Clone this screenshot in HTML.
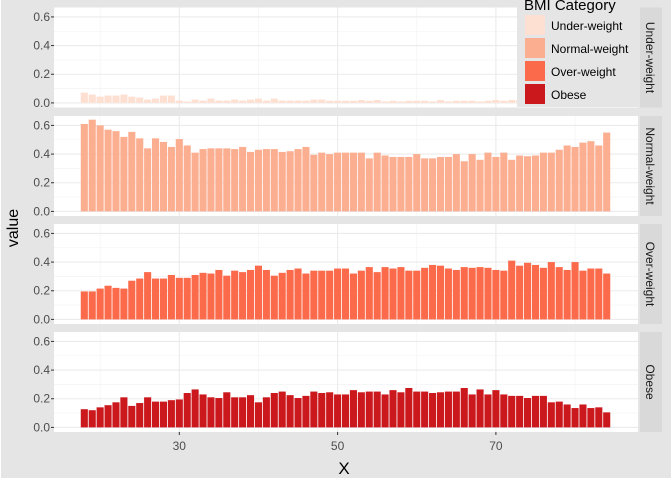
<!DOCTYPE html>
<html><head><meta charset="utf-8"><style>
html,body{margin:0;padding:0;background:#fff}
svg{display:block;font-family:"Liberation Sans",Arial,sans-serif}
</style></head><body>
<svg id="chart" width="672" height="480" viewBox="0 0 672 480">
<rect x="1" y="0" width="670" height="478" fill="#e5e5e5"/>
<g id="panels"></g>
<text x="344" y="474" font-size="17" text-anchor="middle" fill="#000">X</text>
<text transform="translate(18,228) rotate(-90)" font-size="16" text-anchor="middle" fill="#000">value</text>
<g>
<rect x="517" y="0" width="123" height="107" fill="#e5e5e5"/>
<text x="524" y="10" font-size="15" fill="#000">BMI Category</text>
<rect x="525" y="15" width="20" height="20" fill="#fee0d2"/>
<text x="551" y="30" font-size="12" fill="#000">Under-weight</text>
<rect x="525" y="38" width="20" height="20" fill="#fcae91"/>
<text x="551" y="53" font-size="12" fill="#000">Normal-weight</text>
<rect x="525" y="61" width="20" height="20" fill="#fb6a4a"/>
<text x="551" y="76" font-size="12" fill="#000">Over-weight</text>
<rect x="525" y="84" width="20" height="20" fill="#cb181d"/>
<text x="551" y="99" font-size="12" fill="#000">Obese</text>
</g>
</svg>
<script>
const ages = [];
for (let a = 18; a <= 84; a++) ages.push(a);
const facetNames = ["Under-weight","Normal-weight","Over-weight","Obese"];
const underWeight = [0.072,0.058,0.044,0.051,0.051,0.058,0.044,0.037,0.023,0.03,0.051,0.051,0.016,0.009,0.023,0.016,0.03,0.016,0.016,0.023,0.016,0.023,0.03,0.016,0.03,0.016,0.016,0.016,0.016,0.023,0.023,0.015,0.015,0.015,0.015,0.02,0.015,0.02,0.01,0.015,0.01,0.015,0.015,0.015,0.01,0.02,0.01,0.015,0.015,0.015,0.01,0.015,0.02,0.015,0.02,0.02,0.02,0.02,0.02,0.02,0.02,0.02,0.02,0.02,0.02,0.02,0.02];
const normalWeight = [0.61,0.64,0.60,0.57,0.56,0.52,0.555,0.51,0.44,0.51,0.485,0.45,0.505,0.46,0.41,0.435,0.44,0.44,0.44,0.435,0.45,0.415,0.43,0.435,0.435,0.415,0.42,0.435,0.45,0.395,0.41,0.40,0.41,0.41,0.41,0.41,0.37,0.41,0.39,0.38,0.38,0.38,0.40,0.37,0.37,0.38,0.38,0.40,0.35,0.40,0.36,0.41,0.38,0.41,0.36,0.39,0.385,0.39,0.41,0.41,0.43,0.46,0.45,0.48,0.49,0.46,0.55];
const overWeight = [0.195,0.195,0.215,0.235,0.22,0.215,0.27,0.285,0.33,0.285,0.285,0.31,0.29,0.29,0.31,0.325,0.32,0.345,0.305,0.34,0.33,0.345,0.375,0.345,0.305,0.325,0.345,0.355,0.32,0.34,0.34,0.34,0.355,0.355,0.32,0.34,0.365,0.33,0.365,0.355,0.365,0.34,0.34,0.36,0.38,0.375,0.355,0.345,0.365,0.36,0.365,0.36,0.345,0.34,0.41,0.375,0.395,0.38,0.36,0.40,0.365,0.345,0.40,0.34,0.355,0.355,0.32];
const obese = [0.127,0.12,0.14,0.155,0.175,0.21,0.15,0.17,0.21,0.18,0.18,0.19,0.195,0.24,0.265,0.23,0.21,0.205,0.245,0.21,0.21,0.225,0.175,0.21,0.24,0.25,0.225,0.205,0.22,0.25,0.24,0.245,0.23,0.23,0.26,0.245,0.25,0.25,0.23,0.26,0.245,0.275,0.25,0.25,0.24,0.245,0.25,0.25,0.275,0.23,0.265,0.23,0.26,0.23,0.22,0.22,0.205,0.22,0.22,0.175,0.18,0.16,0.135,0.16,0.135,0.14,0.105];
const yTicks = [0.0,0.2,0.4,0.6];
const yTickLabels = ["0.0","0.2","0.4","0.6"];
const xTicks = [30,50,70];
const xTickLabels = ["30","50","70"];
const series = [underWeight, normalWeight, overWeight, obese];
const colors = ["#fee0d2","#fcae91","#fb6a4a","#cb181d"];

const NS = "http://www.w3.org/2000/svg";
const PL = 54, PR = 638, PH = 100;
const panelTops = [7.5, 116, 224, 332];
function xScale(v){ return 179.3 + (v - 30) * 7.915; }
function yScale(v, top){ return top + PH - 4.6 - v * 143.3; }
function mk(tag, attrs, parent){
  const e = document.createElementNS(NS, tag);
  for (const k in attrs) e.setAttribute(k, attrs[k]);
  parent.appendChild(e); return e;
}
const root = document.getElementById("panels");
series.forEach((vals, p) => {
  const top = panelTops[p];
  const g = mk("g", {}, root);
  
  
  const bg = mk("rect", {x:PL, y:top, width:PR-PL, height:PH, fill:"#fff"}, g);
  
  
  [0.1,0.3,0.5].forEach(v => {
    const l = mk("line", {x1:PL, x2:PR, y1:yScale(v,top), y2:yScale(v,top), stroke:"#f2f2f2", "stroke-width":0.6}, g);
    
    
  });
  [20,40,60,80].forEach(v => {
    const l = mk("line", {x1:xScale(v), x2:xScale(v), y1:top, y2:top+PH, stroke:"#f2f2f2", "stroke-width":0.6}, g);
    
    
  });
  yTicks.forEach((v, i) => {
    const y = yScale(v, top);
    const l = mk("line", {x1:PL, x2:PR, y1:y, y2:y, stroke:"#ebebeb", "stroke-width":1.1}, g);
    
    
    const t = mk("line", {x1:PL-3, x2:PL, y1:y, y2:y, stroke:"#333", "stroke-width":1}, g);
    
    
    const tx = mk("text", {x:PL-4, y:y+4, "font-size":12, "text-anchor":"end", fill:"#4d4d4d"}, g);
    tx.textContent = yTickLabels[i];
    
    
  });
  xTicks.forEach(v => {
    const l = mk("line", {x1:xScale(v), x2:xScale(v), y1:top, y2:top+PH, stroke:"#ebebeb", "stroke-width":1.1}, g);
    
    
  });
  vals.forEach((v, i) => {
    const xc = xScale(ages[i]);
    const y0 = yScale(0, top), y1 = yScale(v, top);
    const b = mk("rect", {x:xc-3.55, y:y1, width:7.1, height:y0-y1, fill:colors[p]}, g);
    
    
  });
  const s = mk("rect", {x:640, y:top, width:22, height:PH, fill:"#d9d9d9"}, g);
  
  
  const st = mk("text", {transform:"translate(646," + (top+PH/2) + ") rotate(90)", "font-size":12, "text-anchor":"middle", fill:"#1a1a1a"}, g);
  st.textContent = facetNames[p];
  
  
});
const bottom = panelTops[3] + PH;
xTicks.forEach((v, i) => {
  const t = mk("line", {x1:xScale(v), x2:xScale(v), y1:bottom, y2:bottom+3, stroke:"#333", "stroke-width":1}, root);
  
  
  const tx = mk("text", {x:xScale(v), y:bottom+18, "font-size":12, "text-anchor":"middle", fill:"#4d4d4d"}, root);
  tx.textContent = xTickLabels[i];
  
  
});
</script>
</body></html>
